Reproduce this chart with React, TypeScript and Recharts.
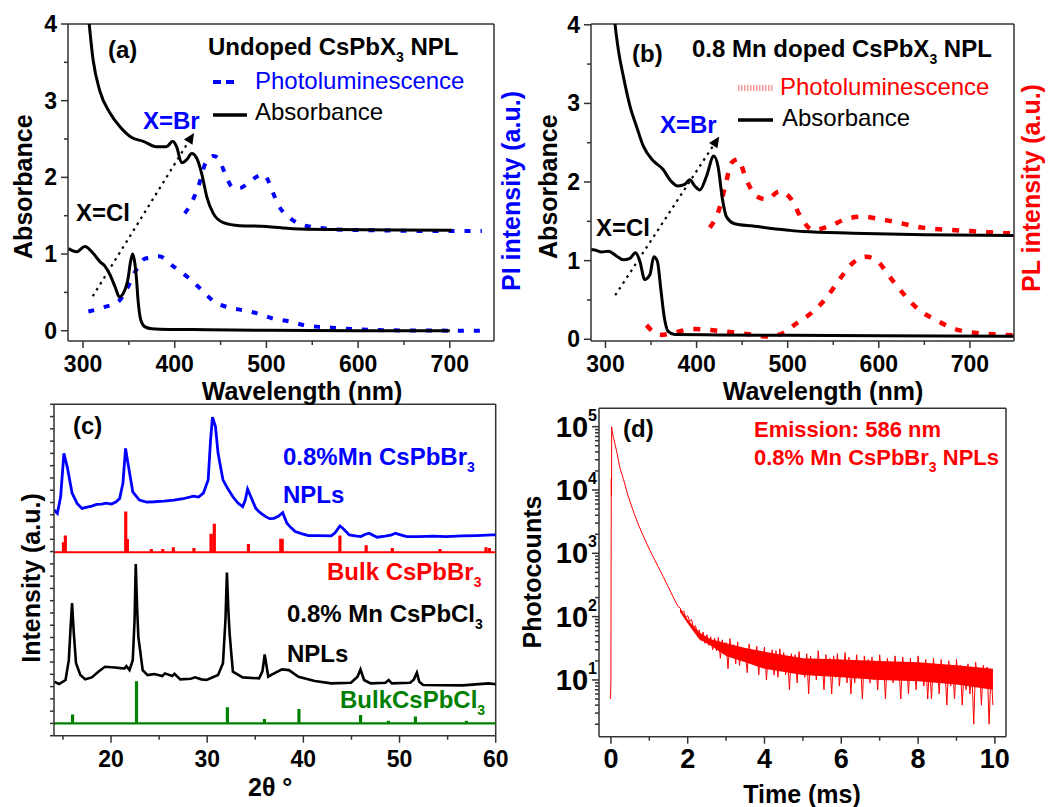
import React from 'react';
import { ComposedChart, Line, Area, XAxis, YAxis, ReferenceLine } from 'recharts';

const FONT = '"Liberation Sans", Arial, Helvetica, sans-serif';
const AX = '#333';
const BLUE = '#0000ff';
const RED = '#ff0000';
const GREEN = '#008000';

// ---------- (a) undoped CsPbX3 NPL ----------
const brAbsA_nm = [305, 311, 318.5, 329.4, 340.3, 353, 365.8, 380, 391, 397.8, 402, 407.6, 413, 418.5, 424, 429.4, 434.9, 442, 453, 471, 500, 529, 573, 640, 702];
const brAbsA = [4.22, 3.53, 3.12, 2.84, 2.66, 2.52, 2.47, 2.4, 2.4, 2.47, 2.4, 2.19, 2.23, 2.31, 2.25, 2.05, 1.75, 1.53, 1.41, 1.37, 1.36, 1.33, 1.32, 1.315, 1.31];
const clAbsA_nm = [284, 293, 302, 311, 318.5, 324, 329.4, 335, 339.6, 344, 349.4, 351.5, 354, 356, 358, 360, 363, 367.6, 375, 384, 420, 500, 600, 700];
const clAbsA = [1.07, 1.03, 1.1, 1.01, 0.9, 0.84, 0.73, 0.57, 0.44, 0.49, 0.7, 0.88, 1.0, 0.92, 0.72, 0.4, 0.14, 0.05, 0.025, 0.02, 0.015, 0.005, 0.0, 0.0];
const brPlA_nm = [411, 420, 427.6, 432, 437, 442, 447.5, 453.8, 458, 464, 471, 478.5, 487, 496.6, 501, 505.8, 513, 525.7, 542, 560, 575, 620, 680, 735];
const brPlA = [1.53, 1.71, 1.95, 2.14, 2.24, 2.28, 2.25, 2.08, 1.96, 1.86, 1.86, 1.91, 1.99, 2.04, 1.98, 1.84, 1.64, 1.47, 1.37, 1.34, 1.32, 1.31, 1.3, 1.3];
const clPlA_nm = [305.8, 324, 338.5, 349.4, 357.8, 367.6, 382.9, 398.5, 414, 428.7, 443, 460, 478.5, 489, 507, 525.7, 540, 558, 577, 595, 640, 735];
const clPlA = [0.25, 0.31, 0.38, 0.58, 0.79, 0.94, 0.97, 0.84, 0.7, 0.54, 0.38, 0.3, 0.26, 0.23, 0.16, 0.12, 0.075, 0.05, 0.035, 0.02, 0.005, 0.0];
const arrowA = [{ x: 310.6, y: 0.45 }, { x: 421, y: 2.58 }];

// ---------- (b) 0.8 Mn doped CsPbX3 NPL ----------
const brAbsB_nm = [309, 310.4, 314, 319.5, 326.8, 334, 341.4, 352.4, 363.3, 370.6, 379.7, 387, 392.5, 398, 403.5, 410.8, 418.8, 423.5, 428.4, 432.7, 441.8, 461.9, 498.5, 516.7, 571.4, 650, 748];
const brAbsB = [4.2, 4.02, 3.69, 3.35, 2.97, 2.71, 2.46, 2.27, 2.16, 2.03, 1.95, 1.97, 2.03, 1.95, 1.9, 2.07, 2.33, 2.2, 1.78, 1.56, 1.47, 1.44, 1.39, 1.37, 1.35, 1.33, 1.32];
const clAbsB_nm = [284, 286.6, 295.8, 303, 312, 319.5, 326.8, 333, 337.8, 343, 348.7, 353, 357, 360.8, 364.4, 368.8, 376, 423.5, 500, 600, 748];
const clAbsB = [1.14, 1.14, 1.11, 1.12, 1.06, 1.01, 1.03, 1.1, 0.99, 0.76, 0.82, 1.05, 0.99, 0.63, 0.29, 0.1, 0.06, 0.055, 0.05, 0.045, 0.04];
const brPlB_nm = [414.5, 423.5, 432.7, 438, 445.5, 454.6, 465.6, 476.6, 491, 504, 515, 527.6, 546, 564, 582, 600.6, 622.6, 648, 681, 710, 739, 748];
const brPlB = [1.42, 1.61, 2.01, 2.24, 2.29, 2.03, 1.82, 1.78, 1.88, 1.78, 1.54, 1.39, 1.44, 1.53, 1.56, 1.53, 1.48, 1.42, 1.39, 1.37, 1.35, 1.35];
const mnPlB_nm = [345, 359.7, 376, 394.4, 412.6, 429, 447.3, 463.7, 476.5, 494.7, 509.4, 527.6, 542, 556.8, 571.4, 586, 598.8, 611.6, 628, 644.5, 662.8, 681, 710, 739.4, 748];
const mnPlB = [0.18, 0.055, 0.085, 0.13, 0.12, 0.1, 0.077, 0.055, 0.035, 0.077, 0.2, 0.35, 0.52, 0.76, 0.97, 1.05, 0.99, 0.8, 0.565, 0.37, 0.245, 0.14, 0.077, 0.055, 0.05];
const arrowB = [{ x: 310.7, y: 0.56 }, { x: 424.9, y: 2.58 }];

// ---------- (c) XRD ----------
const brXrd2t = [14.08, 14.42, 14.76, 15.1, 15.44, 15.95, 16.47, 16.98, 17.5, 18.0, 18.5, 19.02, 19.5, 20.05, 20.5, 20.9, 21.24, 21.51, 21.82, 22.26, 22.95, 23.7, 24.48, 25.5, 26.53, 27.5, 28.57, 29.1, 29.6, 30.1, 30.35, 30.55, 30.86, 31.13, 31.64, 32.15, 32.67, 33.2, 33.69, 33.96, 34.2, 34.54, 35.05, 35.5, 36.08, 36.5, 36.93, 37.4, 37.85, 38.29, 38.7, 39.15, 39.8, 40.51, 41.5, 42.9, 43.3, 43.8, 44.1, 44.78, 45.4, 45.97, 46.4, 46.83, 47.3, 47.68, 48.5, 49.1, 49.56, 50.1, 50.75, 52, 53.5, 54.85, 56.5, 58, 59.62, 60];
const brXrd = [68.1, 67.1, 72.1, 85.2, 81.2, 73.2, 70.1, 68.6, 69.0, 69.3, 69.8, 69.9, 70.2, 69.9, 70.5, 71.6, 76.2, 86.7, 81.2, 73.6, 71.1, 70.5, 70.6, 70.8, 71.1, 71.5, 72.3, 72.0, 73.2, 77.2, 89.2, 96.1, 93.3, 85.2, 77.2, 74.5, 72.1, 70.2, 69.1, 71.1, 74.4, 72.1, 68.6, 67.3, 66.1, 65.5, 65.6, 66.2, 67.3, 64.1, 62.8, 61.6, 61.0, 60.4, 60.4, 60.3, 61.2, 63.3, 62.6, 60.6, 60.3, 60.1, 60.7, 61.1, 60.4, 59.9, 60.2, 60.5, 61.1, 60.6, 60.1, 60.1, 60.2, 60.1, 60.3, 60.4, 60.6, 60.6];
const clXrd2t = [14.08, 14.59, 15.27, 15.61, 15.8, 15.95, 16.13, 16.36, 16.81, 17.32, 18.0, 18.68, 19.37, 20.39, 21.0, 21.41, 21.6, 21.92, 22.26, 22.45, 22.57, 22.72, 22.84, 23.29, 23.8, 24.5, 25.33, 25.6, 26.36, 26.6, 27.2, 28.3, 28.74, 29.4, 29.94, 31.13, 31.64, 31.9, 32.05, 32.2, 32.33, 32.67, 33.69, 35.4, 35.75, 35.98, 36.2, 36.35, 36.76, 37.78, 38.5, 39.49, 41.19, 42.9, 44.95, 45.63, 45.94, 46.31, 47.0, 48.53, 48.87, 49.2, 51.1, 51.5, 51.8, 52.05, 52.46, 56.55, 59.28, 60];
const clXrd = [16.3, 15.6, 16.8, 22.8, 33, 40.0, 30.9, 21.9, 18.3, 17.0, 17.6, 19.3, 20.8, 20.6, 20.4, 20.3, 21.0, 19.8, 22.8, 35, 51.8, 38, 29.9, 19.8, 18.3, 18.6, 18.0, 18.8, 18.0, 18.7, 17.0, 17.2, 17.6, 17.0, 16.8, 18.3, 21.9, 35, 49.2, 38, 30.9, 19.3, 17.6, 17.3, 19.5, 24.5, 20.5, 17.8, 18.5, 20.0, 19.8, 17.8, 16.5, 15.8, 16.0, 17.8, 20.0, 16.8, 15.8, 16.0, 16.8, 15.8, 16.0, 17.0, 19.0, 16.3, 15.3, 15.2, 15.8, 15.5];
const brBulkPos = [15.0, 15.2, 21.48, 21.65, 24.14, 25.33, 26.43, 28.57, 30.35, 30.69, 34.24, 37.6, 37.75, 43.75, 46.48, 49.2, 54.16, 58.94, 59.3];
const brBulkTop = [58.06, 60.06, 67.3, 59.06, 56.04, 56.04, 56.5, 56.3, 60.6, 63.6, 57.55, 59.1, 59.1, 60.1, 57.1, 56.3, 56.0, 56.5, 56.3];
const brBulkBase = 55.35;
const clBulkPos = [15.95, 22.6, 32.05, 35.9, 39.49, 45.9, 48.8, 51.6, 56.9];
const clBulkTop = [6.04, 16.1, 8.26, 4.74, 7.76, 5.95, 4.2, 5.43, 4.2];
const clBulkBase = 3.74;

// ---------- (d) PL decay at 586 nm ----------
const decayT = [-0.01, 0.0, 0.01, 0.015, 0.02, 0.03, 0.06, 0.1, 0.16, 0.23, 0.33, 0.45, 0.58, 0.71, 0.84, 0.97, 1.1, 1.23, 1.36, 1.49, 1.62, 1.75];
const decayC = [5, 10, 15000, 8000, 100000, 85000, 70000, 55000, 38000, 23000, 14500, 8000, 4700, 2900, 1900, 1270, 880, 617, 430, 298, 205, 144];
const noiseStart = 1.8;
const noiseStep = 0.05;
const noiseC = [
  138, 118, 122, 96, 104, 84, 90, 66, 72, 57,
  62, 42, 57, 38, 52, 35, 48, 30, 46, 29,
  47, 22, 43, 27, 39, 15, 45, 25, 36, 18,
  40, 17, 33, 23, 31, 13, 37, 18, 27, 20,
  34, 12, 28, 19, 33, 10, 26, 16, 30, 12,
  29, 11, 31, 14, 27, 12, 23, 7, 26, 15,
  25, 9, 28, 13, 20, 11, 26, 6, 24, 12,
  21, 10, 29, 12, 19, 7, 25, 13, 22, 6,
  24, 11, 26, 8, 18, 12, 27, 9, 23, 6,
  20, 9, 25, 11, 18, 5, 24, 12, 21, 9,
  23, 10, 17, 7, 25, 11, 19, 5, 22, 12,
  18, 9, 24, 11, 16, 5, 23, 10, 19, 6,
  22, 10, 17, 7, 24, 11, 18, 8, 21, 5,
  17, 5, 22, 10, 16, 6, 21, 11, 15, 4,
  20, 8, 16, 5, 21, 10, 17, 4, 15, 7,
  18, 6, 14, 2, 19, 8, 15, 4, 17, 8,
  16, 2, 14, 4,
];
const bandT = [1.8, 2.0, 2.3, 2.6, 3.0, 3.5, 4.0, 5.0, 6.0, 7.0, 8.0, 9.0, 9.95];
const bandLo = [118, 78, 44, 35, 24, 19, 15, 12, 11, 10, 9.5, 8.5, 7];
const bandHi = [134, 90, 56, 44, 38, 32, 28, 22, 21, 20, 19, 17, 15];

const zip = (xs: number[], ys: number[]) => xs.map((x, i) => ({ x, y: ys[i] }));
const sticks = (pos: number[], top: number[], base: number, from: number, to: number) => {
  const pts = [{ x: from, y: base }];
  pos.forEach((p, i) => {
    pts.push({ x: p, y: base }, { x: p, y: top[i] }, { x: p + 0.1, y: top[i] }, { x: p + 0.1, y: base });
  });
  pts.push({ x: to, y: base });
  return pts;
};
const decayData = [
  ...zip(decayT, decayC),
  ...noiseC.map((c, i) => ({ x: +(noiseStart + i * noiseStep).toFixed(2), y: c })),
];
const bandData = bandT.map((x, i) => ({ x, range: [bandLo[i], bandHi[i]] }));

// ---------- tick renderers ----------
const XTick = ({ x, y, payload, majors, size = 23 }: any) => {
  const major = majors.includes(payload.value);
  return (
    <g>
      <line x1={x} x2={x} y1={y} y2={y + (major ? 7 : 4)} stroke={AX} strokeWidth={1.5} />
      {major && (
        <text x={x} y={y + 31} textAnchor="middle" fontSize={size} fontWeight="bold" fontFamily={FONT} fill="#000">
          {payload.value}
        </text>
      )}
    </g>
  );
};

const YTick = ({ x, y, payload, majors }: any) => {
  const major = majors ? majors.includes(payload.value) : false;
  return (
    <g>
      <line x1={x} x2={x - (major ? 7 : 4)} y1={y} y2={y} stroke={AX} strokeWidth={1.5} />
      {major && (
        <text x={x - 11} y={y + 8} textAnchor="end" fontSize={23} fontWeight="bold" fontFamily={FONT} fill="#000">
          {payload.value}
        </text>
      )}
    </g>
  );
};

const LogTick = ({ x, y, payload }: any) => {
  const e = Math.log10(payload.value);
  const major = Math.abs(e - Math.round(e)) < 1e-9;
  return (
    <g>
      <line x1={x} x2={x - (major ? 7 : 4)} y1={y} y2={y} stroke={AX} strokeWidth={1.5} />
      {major && (
        <text x={x - 2} y={y + 10} textAnchor="end" fontSize={29} fontWeight="bold" fontFamily={FONT} fill="#000">
          10<tspan fontSize={16} dy={-16}>{Math.round(e)}</tspan>
        </text>
      )}
    </g>
  );
};

const Arrow = (p: any) => {
  const { x1, y1, x2, y2 } = p;
  const ang = Math.atan2(y2 - y1, x2 - x1);
  const L = 11;
  const W = 5;
  const bx = x2 - L * Math.cos(ang);
  const by = y2 - L * Math.sin(ang);
  const nx = -Math.sin(ang);
  const ny = Math.cos(ang);
  return (
    <g>
      <line x1={x1} y1={y1} x2={bx} y2={by} stroke="#000" strokeWidth={2.2} strokeDasharray="2.5 4.5" />
      <polygon points={`${x2},${y2} ${bx + nx * W},${by + ny * W} ${bx - nx * W},${by - ny * W}`} fill="#000" />
    </g>
  );
};

const wlTicks = [300, 350, 400, 450, 500, 550, 600, 650, 700];
const wlMajors = [300, 400, 500, 600, 700];
const absTicks = [0, 0.5, 1, 1.5, 2, 2.5, 3, 3.5, 4];
const absMajors = [0, 1, 2, 3, 4];
const ttTicks = [15, 20, 25, 30, 35, 40, 45, 50, 55, 60];
const ttMajors = [20, 30, 40, 50, 60];
const timeTicks = [0, 1, 2, 3, 4, 5, 6, 7, 8, 9, 10];
const timeMajors = [0, 2, 4, 6, 8, 10];
const logTicks: number[] = [];
[1, 10, 100, 1000, 10000].forEach((d) => {
  for (let m = 2; m <= 10; m++) logTicks.push(m * d);
});
const cTicks = Array.from({ length: 28 }, (_, i) => (i * 100) / 27);

const axisLine = { stroke: AX, strokeWidth: 1.5 };
const frame = { stroke: AX, strokeWidth: 1.5 };

function AbsPanel({ left, yAxisW, xDom, yDom, series, arrow }: any) {
  return (
    <div style={{ position: 'absolute', left, top: 0 }}>
      <ComposedChart width={500} height={400} margin={{ top: 24, right: 6, bottom: 0, left: 0 }}>
        <XAxis dataKey="x" type="number" domain={xDom} allowDataOverflow ticks={wlTicks} interval={0}
          tickSize={0} tickMargin={0} tickLine={false} axisLine={axisLine} height={59}
          tick={<XTick majors={wlMajors} />} />
        <YAxis type="number" domain={yDom} allowDataOverflow ticks={absTicks} interval={0}
          tickSize={0} tickMargin={0} tickLine={false} axisLine={axisLine} width={yAxisW}
          tick={<YTick majors={absMajors} />} />
        <ReferenceLine y={yDom[1]} {...frame} />
        <ReferenceLine x={xDom[1]} {...frame} />
        {series.map((s: any, i: number) => (
          <Line key={i} data={s.data} dataKey="y" type="monotone" stroke={s.color} strokeWidth={s.w}
            strokeDasharray={s.dash} dot={false} activeDot={false} isAnimationActive={false} />
        ))}
        <ReferenceLine segment={arrow} shape={Arrow} />
      </ComposedChart>
    </div>
  );
}

function PanelA() {
  return (
    <AbsPanel left={0} yAxisW={68} xDom={[283.6, 748.2]} yDom={[-0.134, 4]} arrow={arrowA}
      series={[
        { data: zip(clPlA_nm, clPlA), color: BLUE, w: 4, dash: '6 10' },
        { data: zip(brPlA_nm, brPlA), color: BLUE, w: 4, dash: '6 10' },
        { data: zip(clAbsA_nm, clAbsA), color: '#000', w: 3 },
        { data: zip(brAbsA_nm, brAbsA), color: '#000', w: 3 },
      ]} />
  );
}

function PanelB() {
  return (
    <AbsPanel left={520} yAxisW={71} xDom={[284.1, 748.4]} yDom={[-0.022, 4.01]} arrow={arrowB}
      series={[
        { data: zip(mnPlB_nm, mnPlB), color: RED, w: 4.5, dash: '7 10' },
        { data: zip(brPlB_nm, brPlB), color: RED, w: 4.5, dash: '7 10' },
        { data: zip(clAbsB_nm, clAbsB), color: '#000', w: 3 },
        { data: zip(brAbsB_nm, brAbsB), color: '#000', w: 3 },
      ]} />
  );
}

function PanelC() {
  return (
    <div style={{ position: 'absolute', left: 0, top: 390 }}>
      <ComposedChart width={530} height={417} margin={{ top: 14.3, right: 34.3, bottom: 0, left: 0 }}>
        <XAxis dataKey="x" type="number" domain={[14.07, 60]} allowDataOverflow ticks={ttTicks} interval={0}
          tickSize={0} tickMargin={0} tickLine={false} axisLine={axisLine} height={71.3}
          tick={<XTick majors={ttMajors} />} />
        <YAxis type="number" domain={[0, 100]} allowDataOverflow ticks={cTicks} interval={0}
          tickSize={0} tickMargin={0} tickLine={false} axisLine={axisLine} width={54}
          tick={<YTick />} />
        <ReferenceLine y={100} {...frame} />
        <ReferenceLine x={60} {...frame} />
        <Line data={sticks(clBulkPos, clBulkTop, clBulkBase, 14.07, 60)} dataKey="y" type="linear" stroke={GREEN}
          strokeWidth={2.2} dot={false} activeDot={false} isAnimationActive={false} />
        <Line data={sticks(brBulkPos, brBulkTop, brBulkBase, 14.07, 60)} dataKey="y" type="linear" stroke={RED}
          strokeWidth={2.2} dot={false} activeDot={false} isAnimationActive={false} />
        <Line data={zip(clXrd2t, clXrd)} dataKey="y" type="linear" stroke="#000" strokeWidth={2.6}
          dot={false} activeDot={false} isAnimationActive={false} />
        <Line data={zip(brXrd2t, brXrd)} dataKey="y" type="linear" stroke={BLUE} strokeWidth={2.8}
          dot={false} activeDot={false} isAnimationActive={false} />
      </ComposedChart>
    </div>
  );
}

function PanelD() {
  return (
    <div style={{ position: 'absolute', left: 520, top: 390 }}>
      <ComposedChart width={520} height={417} margin={{ top: 18.3, right: 34, bottom: 0, left: 0 }}>
        <XAxis dataKey="x" type="number" domain={[-0.31, 10.29]} allowDataOverflow ticks={timeTicks} interval={0}
          tickSize={0} tickMargin={0} tickLine={false} axisLine={axisLine} height={70.3}
          tick={<XTick majors={timeMajors} size={27} />} />
        <YAxis type="number" scale="log" domain={[1.27, 195000]} allowDataOverflow ticks={logTicks} interval={0}
          tickSize={0} tickMargin={0} tickLine={false} axisLine={axisLine} width={79}
          tick={<LogTick />} />
        <ReferenceLine y={195000} {...frame} />
        <ReferenceLine x={10.29} {...frame} />
        <Area data={bandData} dataKey="range" type="linear" stroke="none" fill={RED} fillOpacity={1}
          isAnimationActive={false} activeDot={false} />
        <Line data={decayData} dataKey="y" type="linear" stroke={RED} strokeWidth={1}
          dot={false} activeDot={false} isAnimationActive={false} />
      </ComposedChart>
    </div>
  );
}

const Sub = ({ children, size = 14 }: any) => (
  <>
    <tspan fontSize={size} dy={7}>{children}</tspan>
    <tspan dy={-7}> </tspan>
  </>
);

function Overlay() {
  const b = { fontFamily: FONT, fontWeight: 'bold' as const };
  return (
    <svg width={1053} height={807} style={{ position: 'absolute', left: 0, top: 0, pointerEvents: 'none' }}>
      {/* panel (a) */}
      <text x={108} y={58} fontSize={24} {...b}>(a)</text>
      <text x={208} y={55} fontSize={24} {...b}>Undoped CsPbX<Sub>3</Sub>NPL</text>
      <line x1={213} x2={236} y1={82} y2={82} stroke={BLUE} strokeWidth={4} strokeDasharray="8 5" />
      <text x={255} y={89} fontSize={24} fontFamily={FONT} fill={BLUE}>Photoluminescence</text>
      <line x1={213} x2={247} y1={115} y2={115} stroke="#000" strokeWidth={3.5} />
      <text x={255} y={120} fontSize={24} fontFamily={FONT}>Absorbance</text>
      <text x={143} y={129} fontSize={24} fill={BLUE} {...b}>X=Br</text>
      <text x={76} y={221} fontSize={24} {...b}>X=Cl</text>
      <text transform="translate(31.7,186.7) rotate(-90)" textAnchor="middle" fontSize={25} {...b}>Absorbance</text>
      <text transform="translate(520,191) rotate(-90)" textAnchor="middle" fontSize={25} fill={BLUE} {...b}>PI intensity (a.u.)</text>
      <text x={302} y={400} textAnchor="middle" fontSize={25} {...b}>Wavelength (nm)</text>

      {/* panel (b) */}
      <text x={632} y={62} fontSize={24} {...b}>(b)</text>
      <text x={692} y={57} fontSize={24} {...b}>0.8 Mn doped CsPbX<Sub>3</Sub>NPL</text>
      <line x1={738} x2={773} y1={88} y2={88} stroke="#ff9a9a" strokeWidth={6} strokeDasharray="1.5 1.5" />
      <text x={780} y={95} fontSize={24} fontFamily={FONT} fill={RED}>Photoluminescence</text>
      <line x1={738} x2={773} y1={120} y2={120} stroke="#000" strokeWidth={3.5} />
      <text x={782} y={126} fontSize={24} fontFamily={FONT}>Absorbance</text>
      <text x={660} y={133} fontSize={24} fill={BLUE} {...b}>X=Br</text>
      <text x={596} y={236} fontSize={24} {...b}>X=Cl</text>
      <text transform="translate(556.7,186.7) rotate(-90)" textAnchor="middle" fontSize={25} {...b}>Absorbance</text>
      <text transform="translate(1040,188) rotate(-90)" textAnchor="middle" fontSize={25} fill={RED} {...b}>PL intensity (a.u.)</text>
      <text x={823} y={400} textAnchor="middle" fontSize={25} {...b}>Wavelength (nm)</text>

      {/* panel (c) */}
      <text x={73} y={434} fontSize={24} {...b}>(c)</text>
      <text x={283} y={465} fontSize={24} fill={BLUE} {...b}>0.8%Mn CsPbBr<Sub>3</Sub></text>
      <text x={283} y={503} fontSize={24} fill={BLUE} {...b}>NPLs</text>
      <text x={327} y={580} fontSize={24} fill={RED} {...b}>Bulk CsPbBr<Sub>3</Sub></text>
      <text x={287} y={622} fontSize={24} {...b}>0.8% Mn CsPbCl<Sub>3</Sub></text>
      <text x={287} y={662} fontSize={24} {...b}>NPLs</text>
      <text x={340} y={708} fontSize={24} fill={GREEN} {...b}>BulkCsPbCl<Sub>3</Sub></text>
      <text transform="translate(40,578) rotate(-90)" textAnchor="middle" fontSize={25} {...b}>Intensity (a.u.)</text>
      <text x={248} y={796} fontSize={25} {...b}>2θ °</text>

      {/* panel (d) */}
      <text x={623} y={437} fontSize={24} {...b}>(d)</text>
      <text x={754} y={437} fontSize={22} fill={RED} {...b}>Emission: 586 nm</text>
      <text x={754} y={465} fontSize={22} fill={RED} {...b}>0.8% Mn CsPbBr<Sub>3</Sub>NPLs</text>
      <text transform="translate(541,572) rotate(-90)" textAnchor="middle" fontSize={25} {...b}>Photocounts</text>
      <text x={802} y={803} textAnchor="middle" fontSize={25} {...b}>Time (ms)</text>
    </svg>
  );
}

export default function App() {
  return (
    <div style={{ position: 'absolute', left: 0, top: 0, width: 1053, height: 807, background: '#fff', overflow: 'hidden' }}>
      <PanelA />
      <PanelB />
      <PanelC />
      <PanelD />
      <Overlay />
    </div>
  );
}
